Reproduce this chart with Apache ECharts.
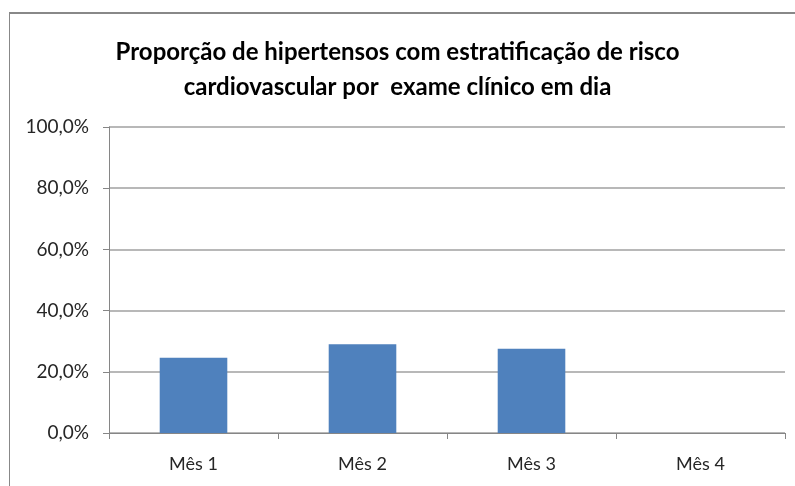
<!DOCTYPE html>
<html>
<head>
<meta charset="utf-8">
<script src="https://cdn.jsdelivr.net/npm/echarts@6/dist/echarts.min.js"></script>
<style>
  html, body { margin: 0; padding: 0; background: #fff; }
  #wrap { position: relative; width: 795px; height: 486px; }
  #chart { width: 795px; height: 486px; }
  /* moldura do gráfico (só borda esquerda e superior aparecem) */
  #frame { position: absolute; left: 9px; top: 12px; right: 0; bottom: 0;
           border-left: 1px solid #888; border-top: 2px solid #888; pointer-events: none; }
</style>
</head>
<body>
<div id="wrap">
  <div id="chart"></div>
  <div id="frame"></div>
</div>
<script>
// dados
const meses = ['Mês 1', 'Mês 2', 'Mês 3', 'Mês 4'];
const proporcao = [24.6, 29.0, 27.5, 0];
const titulo = 'Proporção de hipertensos com estratificação de risco\ncardiovascular por  exame clínico em dia';

const chart = echarts.init(document.getElementById('chart'));

const option = {
  animation: false,
  title: {
    text: titulo,
    left: 'center',
    top: 30,
    textStyle: {
      fontFamily: 'Lato',
      fontWeight: 'bold',
      fontSize: 24,
      lineHeight: 35,
      color: '#000'
    }
  },
  grid: { left: 109, right: 10, top: 127, bottom: 53, containLabel: false },
  xAxis: {
    type: 'category',
    data: meses,
    axisLine: { lineStyle: { color: '#868686', width: 1 } },
    axisTick: { show: true, length: 6, lineStyle: { color: '#868686' } },
    axisLabel: { color: '#262626', fontFamily: 'Lato', fontSize: 18, margin: 22 }
  },
  yAxis: {
    type: 'value',
    min: 0,
    max: 100,
    interval: 20,
    axisLine: { show: true, lineStyle: { color: '#868686', width: 1 } },
    axisTick: { show: true, length: 6, lineStyle: { color: '#868686' } },
    splitLine: { lineStyle: { color: '#a0a0a0', width: 1.5 } },
    axisLabel: {
      color: '#262626',
      fontFamily: 'Lato',
      fontSize: 19,
      margin: 20,
      formatter: v => v.toFixed(1).replace('.', ',') + '%'
    }
  },
  series: [{
    type: 'bar',
    data: proporcao,
    barWidth: '40%',
    itemStyle: { color: '#4F81BD' }
  }]
};

chart.setOption(option);
</script>
</body>
</html>
